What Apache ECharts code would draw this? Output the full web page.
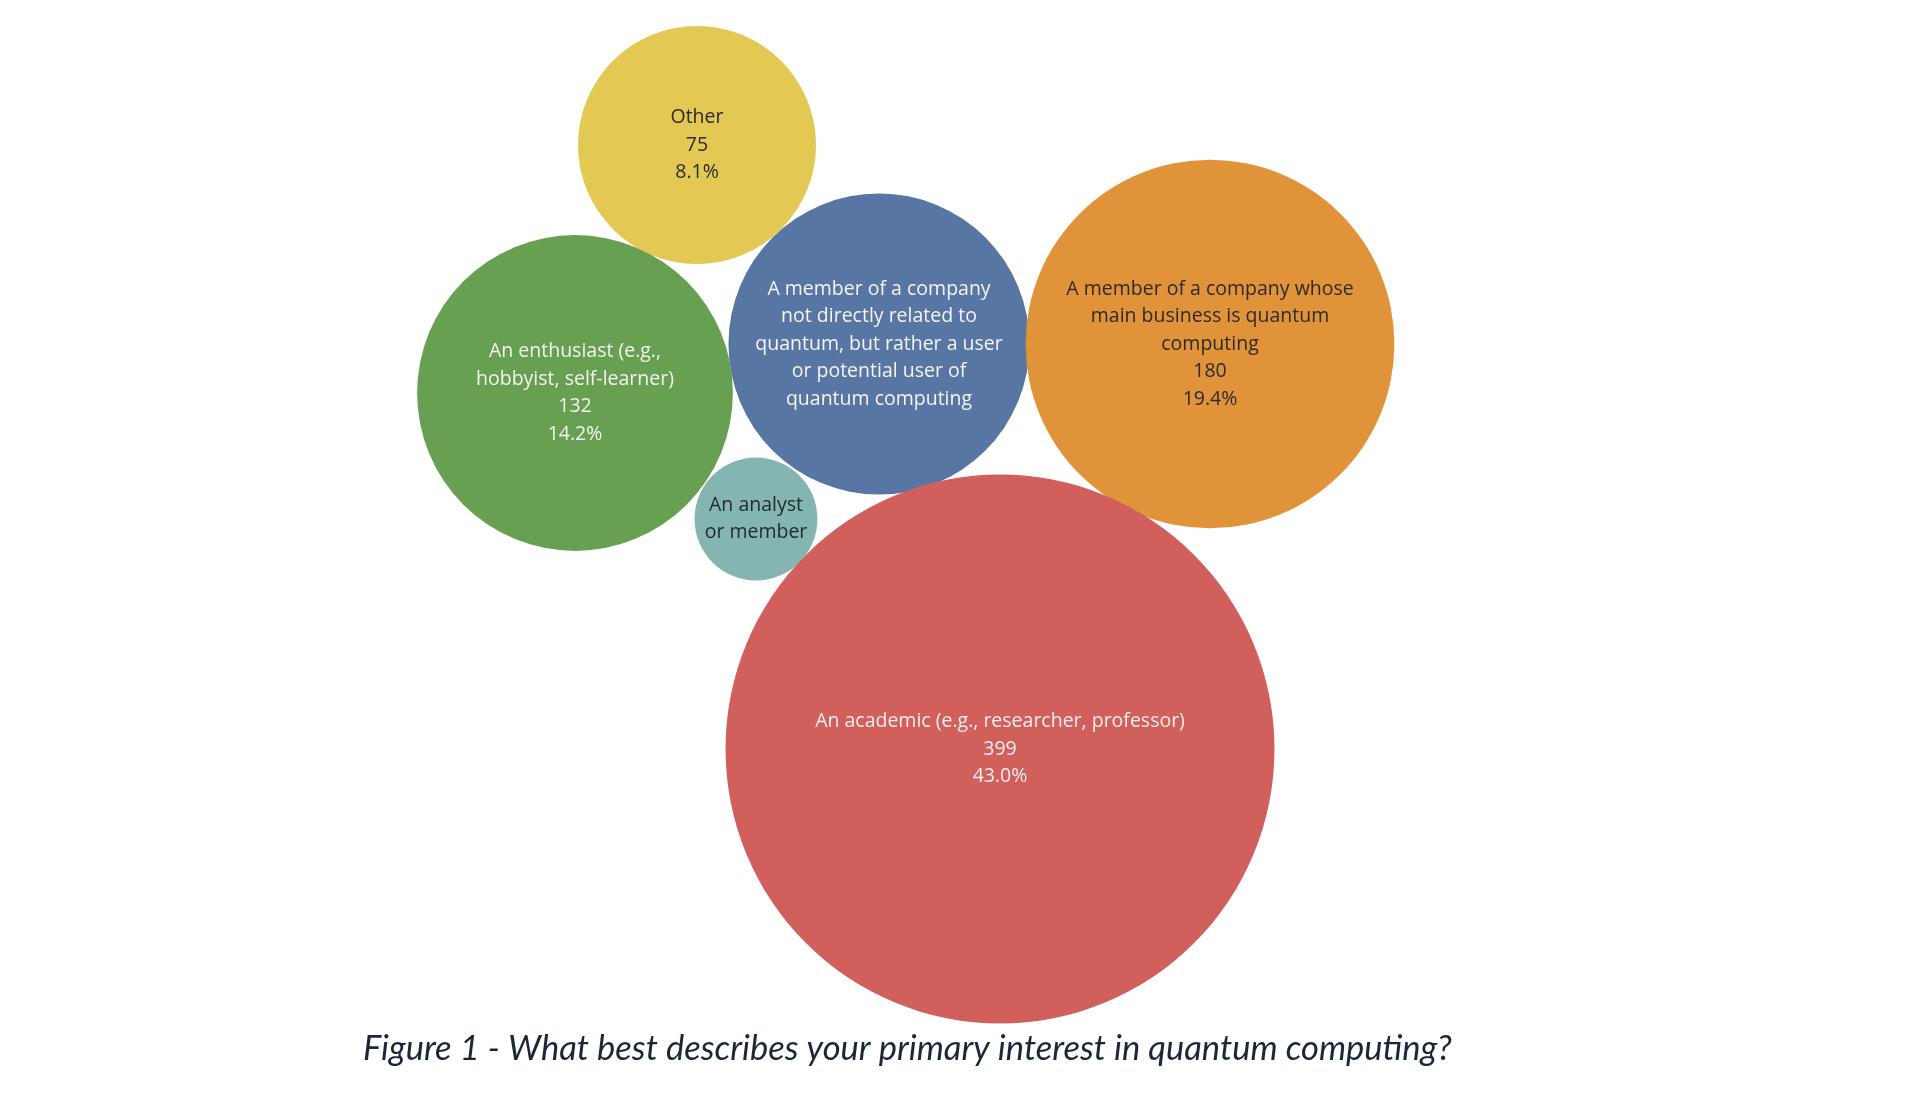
<!DOCTYPE html>
<html>
<head>
<meta charset="utf-8">
<script src="https://cdn.jsdelivr.net/npm/echarts@6/dist/echarts.min.js"></script>
<style>
html,body{margin:0;padding:0;background:#ffffff;}
#chart{width:1912px;height:1096px;}
</style>
</head>
<body>
<div id="chart"></div>
<script>
// Categories (full names) and the label text shown inside each bubble
const categories = [
  "Other",
  "A member of a company not directly related to quantum, but rather a user or potential user of quantum computing",
  "A member of a company whose main business is quantum computing",
  "An enthusiast (e.g., hobbyist, self-learner)",
  "An analyst or member",
  "An academic (e.g., researcher, professor)"
];
const labelNames = [
  "Other",
  "A member of a company\nnot directly related to\nquantum, but rather a user\nor potential user of\nquantum computing",
  "A member of a company whose\nmain business is quantum\ncomputing",
  "An enthusiast (e.g.,\nhobbyist, self-learner)",
  "An analyst\nor member",
  "An academic (e.g., researcher, professor)"
];
const showValue = [true, false, true, true, false, true];
// Respondent counts and their shares as printed
const counts = [75, 120, 180, 132, 20, 399];
const shares = ["8.1%", "", "19.4%", "14.2%", "", "43.0%"];
// Bubble-pack layout positions (centre of each bubble)
const packX = [697, 879, 1210, 575, 756, 1000];
const packY = [145, 344, 344, 393, 519, 749];

const colors = ["#E3C953", "#5776A3", "#E1933A", "#67A050", "#85B5B1", "#D15F5C"];
const textColors = ["#2b2b2b", "#f4f4f6", "#2b2b2b", "#f2f5f0", "#1f2a2a", "#f8eeee"];

const maxCount = Math.max.apply(null, counts);
const maxDiameter = 549;

const data = counts.map((v, i) => ({
  name: categories[i],
  value: [packX[i], packY[i], v],
  itemStyle: { color: colors[i] },
  label: { color: textColors[i] }
}));

const chart = echarts.init(document.getElementById('chart'), null, { renderer: 'canvas' });
chart.setOption({
  backgroundColor: '#ffffff',
  animation: false,
  title: {
    text: 'Figure 1 - What best describes your primary interest in quantum computing?',
    left: 358,
    top: 1026,
    textStyle: {
      fontFamily: 'Lato',
      fontStyle: 'italic',
      fontWeight: 'normal',
      fontSize: 34.5,
      color: '#1b2638'
    }
  },
  grid: { left: 0, right: 0, top: 0, bottom: 0 },
  xAxis: { type: 'value', min: 0, max: 1912, show: false },
  yAxis: { type: 'value', min: 0, max: 1096, inverse: true, show: false },
  series: [{
    type: 'scatter',
    data: data,
    symbol: 'circle',
    symbolSize: function (val) {
      return maxDiameter * Math.sqrt(val[2] / maxCount);
    },
    itemStyle: { opacity: 1 },
    label: {
      show: true,
      position: 'inside',
      fontFamily: 'Open Sans',
      fontSize: 19.5,
      lineHeight: 27.5,
      align: 'center',
      verticalAlign: 'middle',
      formatter: function (p) {
        const i = p.dataIndex;
        let s = labelNames[i];
        if (showValue[i]) {
          s += '\n' + counts[i] + '\n' + shares[i];
        }
        return s;
      }
    },
    emphasis: { disabled: true }
  }]
});
</script>
</body>
</html>
